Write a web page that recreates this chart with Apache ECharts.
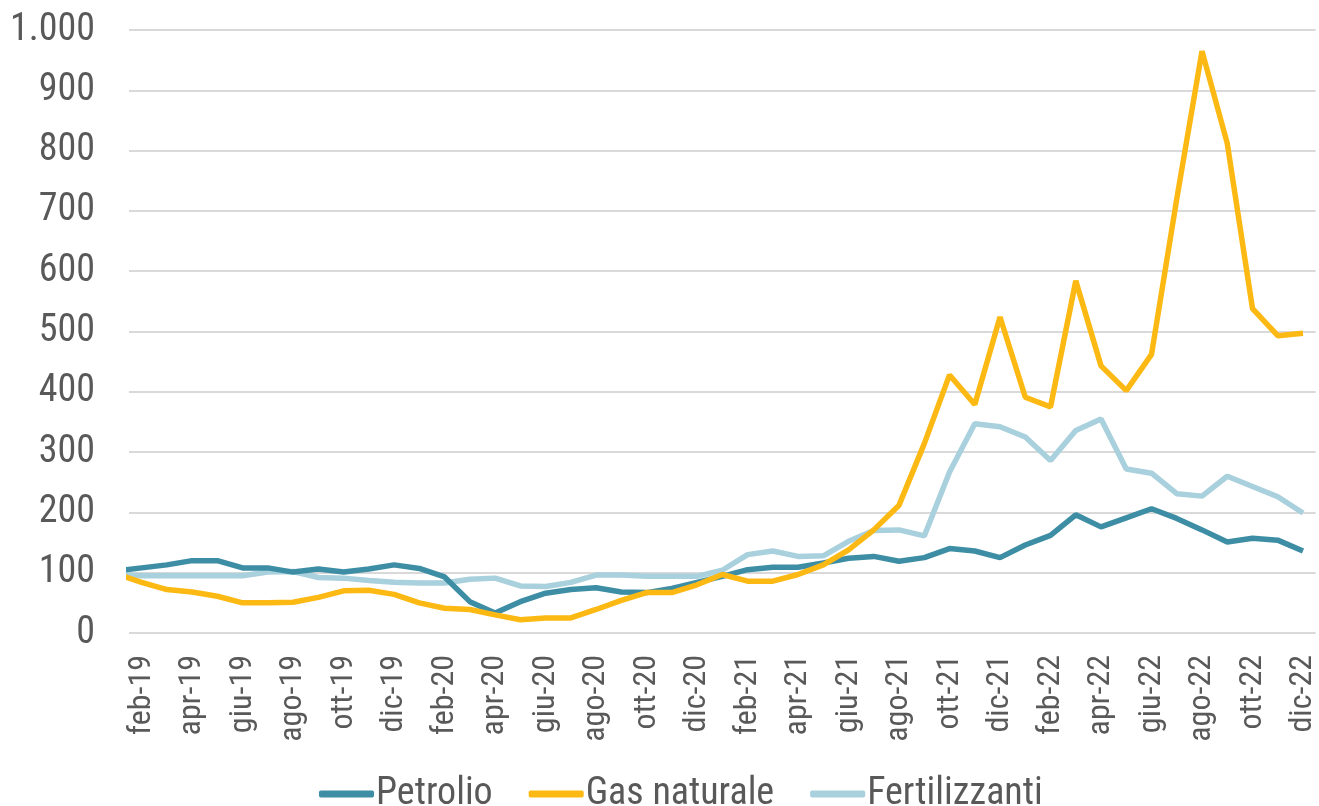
<!DOCTYPE html>
<html>
<head>
<meta charset="utf-8">
<script src="https://cdn.jsdelivr.net/npm/echarts@6/dist/echarts.min.js"></script>
<style>
html,body{margin:0;padding:0;background:#fff;}
#chart{width:1319px;height:806px;}
</style>
</head>
<body>
<div id="chart"></div>
<script>
// Months from gen-19 to dic-22 (first month only partially visible at the left edge)
var months = ['gen-19','feb-19','mar-19','apr-19','mag-19','giu-19','lug-19','ago-19','set-19','ott-19','nov-19','dic-19',
  'gen-20','feb-20','mar-20','apr-20','mag-20','giu-20','lug-20','ago-20','set-20','ott-20','nov-20','dic-20',
  'gen-21','feb-21','mar-21','apr-21','mag-21','giu-21','lug-21','ago-21','set-21','ott-21','nov-21','dic-21',
  'gen-22','feb-22','mar-22','apr-22','mag-22','giu-22','lug-22','ago-22','set-22','ott-22','nov-22','dic-22'];
var tickLabels = ['feb-19','apr-19','giu-19','ago-19','ott-19','dic-19','feb-20','apr-20','giu-20','ago-20','ott-20','dic-20',
  'feb-21','apr-21','giu-21','ago-21','ott-21','dic-21','feb-22','apr-22','giu-22','ago-22','ott-22','dic-22'];
var petrolio = [103,108,113,120,120,108,108,101,106,101,106,113,107,93,52,33,52,66,72,75,68,67,74,84,94,105,109,109,116,124,127,119,125,140,136,125,146,162,196,176,191,206,190,171,151,157,154,136];
var gasNaturale = [98,84,72,68,61,50,50,51,59,70,71,64,50,41,39,30,22,25,25,39,54,67,67,80,97,86,86,97,113,138,171,212,314,428,379,524,391,375,584,443,402,462,720,965,812,538,493,497];
var fertilizzanti = [97,95,95,95,95,95,101,102,92,91,87,84,83,83,89,91,78,77,84,96,96,94,94,94,104,130,136,127,128,152,170,171,161,267,347,342,325,286,336,355,272,265,231,227,260,243,226,199];
var seriesNames = ['Petrolio','Gas naturale','Fertilizzanti'];
var colors = ['#3d8ea5','#fdb913','#a9d0dd'];

// x position: index relative to feb-19 (feb-19 = 0)
function pairs(arr){ return arr.map(function(v,k){ return [k-1, v]; }); }
var labelPos = tickLabels.map(function(l){ return months.indexOf(l) - 1; });

var FONT = "'Liberation Sans Narrow','Arial Narrow','Roboto Condensed',sans-serif";
var chart = echarts.init(document.getElementById('chart'), null, {renderer:'canvas'});
chart.setOption({
  animation:false,
  color: colors,
  grid:{left:129, right:0, top:30, bottom:173, containLabel:false},
  xAxis:{
    type:'value', min:-0.5, max:46.5,
    axisLine:{show:false}, axisTick:{show:false}, splitLine:{show:false},
    axisLabel:{
      customValues: labelPos,
      rotate:90, margin:22, color:'#595959', fontSize:32, fontFamily:FONT,
      formatter:function(v){ var k = Math.round(v)+1; return months[k] || ''; }
    }
  },
  yAxis:{
    type:'value', min:0, max:1000, interval:100,
    axisLine:{show:false}, axisTick:{show:false},
    splitLine:{lineStyle:{color:'#d9d9d9', width:2}},
    axisLabel:{
      margin:34, color:'#595959', fontSize:38, fontFamily:FONT,
      formatter:function(v){ return v >= 1000 ? (Math.floor(v/1000) + '.' + String(v%1000).padStart(3,'0')) : String(v); }
    }
  },
  legend:{
    left:314, top:770, itemWidth:55, itemHeight:7, itemGap:36, icon:'roundRect',
    textStyle:{color:'#595959', fontSize:38, fontFamily:FONT, padding:[0,0,0,-3]},
    data: seriesNames
  },
  series:[
    {name:seriesNames[0], type:'line', data:pairs(petrolio), showSymbol:false, symbol:'none', lineStyle:{width:5.5, color:colors[0]}, itemStyle:{color:colors[0]}},
    {name:seriesNames[1], type:'line', data:pairs(gasNaturale), showSymbol:false, symbol:'none', lineStyle:{width:5.5, color:colors[1]}, itemStyle:{color:colors[1]}},
    {name:seriesNames[2], type:'line', data:pairs(fertilizzanti), showSymbol:false, symbol:'none', lineStyle:{width:5.5, color:colors[2]}, itemStyle:{color:colors[2]}, z:1}
  ]
});
</script>
</body>
</html>
